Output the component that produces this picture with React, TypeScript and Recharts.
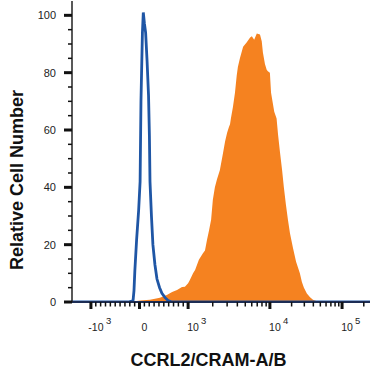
import React from 'react'
import { ComposedChart, Area, Line, XAxis, YAxis, Label } from 'recharts'

// histogram bins on the 0-1024 display channel scale
const isotypeChannels = [0, 192, 206, 210, 213, 216, 222, 229, 234, 237, 242, 245, 249, 253, 258, 263, 266, 268, 273, 278, 285, 292, 301, 309, 320, 330, 344, 1024]
const isotypeCounts = [0, 0, 0.3, 0.7, 4, 11, 21.7, 32, 42, 70, 94, 101, 97, 94, 84, 72, 58, 42, 30, 20, 13, 8, 5, 3, 1.5, 0.5, 0, 0]

const stainedChannels = [
  199, 234, 268, 302, 326, 344, 361, 378, 388, 399, 405, 416, 423, 436, 450, 457, 464, 471, 478, 484,
  491, 498, 508, 519, 526, 533, 539, 543, 546, 553, 560, 566, 570, 577, 588, 600, 612, 618, 626, 635,
  646, 652, 656, 663, 669, 673, 680, 684, 695, 703, 708, 715, 722, 728, 735, 742, 749, 759, 770, 783,
  790, 797, 807, 818, 828, 842, 859, 1024,
]
const stainedCounts = [
  0, 0.5, 0.8, 1.5, 2.4, 3.5, 4.2, 5.2, 5.3, 6.5, 7.7, 10, 11.2, 14.7, 17, 18, 21.7, 25, 28.7, 35.7,
  40, 42.7, 46, 52, 56, 59, 61, 62, 64, 68, 73, 79, 82, 85, 89, 90.5, 92.3, 92.7, 91.5, 93.7,
  93.3, 91, 87, 83, 81, 80.5, 80, 73, 66.4, 64, 58.4, 52, 46, 40, 34, 28.7, 24, 19, 14, 10,
  7, 5, 3, 1.7, 0.8, 0.3, 0, 0,
]

// x axis ticks in fluorescence units
const majorTicks = [-1000, 0, 1000, 10000, 100000]
const majorBase = ['-10', '0', '10', '10', '10']
const majorExp = ['3', '', '3', '4', '5']
const minorTicks = [
  -900, -800, -700, -600, -500, -400, -300, -200, -100,
  100, 200, 300, 400, 500, 600, 700, 800, 900,
  2000, 3000, 4000, 5000, 6000, 7000, 8000, 9000,
  20000, 30000, 40000, 50000, 60000, 70000, 80000, 90000,
  200000,
]

const yTicks = [0, 5, 10, 15, 20, 25, 30, 35, 40, 45, 50, 55, 60, 65, 70, 75, 80, 85, 90, 95, 100]

const ORANGE = '#f58220'
const BLUE = '#1f56a5'
const FONT = '"Liberation Sans", Arial, Helvetica, sans-serif'

// biexponential-style display transform: linear around zero, log above 10^3
function toChannel(v: number) {
  if (Math.abs(v) <= 1000) return 232 + (v / 1000) * 167
  const d = Math.log10(v)
  if (d <= 4) return 399 + (d - 3) * 281
  return 680 + (d - 4) * 248
}

const tickInfo = [
  ...majorTicks.map((v, i) => ({ ch: toChannel(v), major: true, base: majorBase[i], exp: majorExp[i] })),
  ...minorTicks.map((v) => ({ ch: toChannel(v), major: false, base: '', exp: '' })),
]
const xTickChannels = tickInfo.map((t) => t.ch).sort((a, b) => a - b)

const rows: Record<number, { ch: number; isotype?: number; stained?: number }> = {}
isotypeChannels.forEach((ch, i) => {
  rows[ch] = { ...(rows[ch] || { ch }), isotype: isotypeCounts[i] }
})
stainedChannels.forEach((ch, i) => {
  rows[ch] = { ...(rows[ch] || { ch }), stained: stainedCounts[i] }
})
const data = Object.values(rows).sort((a, b) => a.ch - b.ch)

function XTick(props: any) {
  const { x, y, payload } = props
  const info = tickInfo.find((t) => Math.abs(t.ch - payload.value) < 0.001)
  if (!info) return null
  const half = info.base === '-10' ? 7.5 : 5.5
  return (
    <g>
      <line x1={x} x2={x} y1={y} y2={y + (info.major ? 7 : 4.5)} stroke="#111" strokeWidth={info.major ? 3 : 1.5} />
      {info.major && (
        <text x={x + 5} y={y + 29} textAnchor="middle" fontSize={10.5} fontFamily={FONT} fill="#222">
          {info.base}
        </text>
      )}
      {info.major && info.exp && (
        <text x={x + 5 + half + 2.5} y={y + 22} fontSize={9.5} fontFamily={FONT} fill="#222">
          {info.exp}
        </text>
      )}
    </g>
  )
}

function YTick(props: any) {
  const { x, y, payload } = props
  const major = payload.value % 20 === 0
  return (
    <g>
      <line x1={x} x2={x - (major ? 8 : 4)} y1={y} y2={y} stroke="#111" strokeWidth={major ? 3 : 1.5} />
      {major && (
        <text x={x - 16} y={y + 4} textAnchor="end" fontSize={11} fontFamily={FONT} fill="#222">
          {payload.value}
        </text>
      )}
    </g>
  )
}

export default function App() {
  return (
    <div style={{ position: 'absolute', left: 0, top: 0, background: '#fff' }}>
      <ComposedChart width={372} height={373} data={data} margin={{ top: 1, right: 2, bottom: 0, left: 0 }}>
        <XAxis
          dataKey="ch"
          type="number"
          domain={[0, 1024]}
          ticks={xTickChannels}
          interval={0}
          tickSize={0}
          tickMargin={0}
          tickLine={false}
          tick={<XTick />}
          axisLine={{ stroke: '#1c2d55', strokeWidth: 2 }}
          height={71}
          allowDataOverflow
        >
          <Label
            content={() => (
              <text x={208.5} y={366} textAnchor="middle" fontSize={18} fontWeight="bold" fontFamily={FONT} fill="#111">
                CCRL2/CRAM-A/B
              </text>
            )}
          />
        </XAxis>
        <XAxis xAxisId="top" orientation="top" type="number" domain={[0, 1024]} height={0} tick={false} tickLine={false} axisLine={{ stroke: '#444', strokeWidth: 1.2 }} />
        <YAxis
          type="number"
          domain={[0, 105]}
          ticks={yTicks}
          interval={0}
          tickSize={0}
          tickMargin={0}
          tickLine={false}
          tick={<YTick />}
          axisLine={{ stroke: '#222', strokeWidth: 1.5 }}
          width={72}
          allowDataOverflow
        >
          <Label
            content={() => (
              <text
                x={23}
                y={180}
                transform="rotate(-90 23 180)"
                textAnchor="middle"
                fontSize={18}
                fontWeight="bold"
                fontFamily={FONT}
                fill="#111"
              >
                Relative Cell Number
              </text>
            )}
          />
        </YAxis>
        <YAxis yAxisId="right" orientation="right" type="number" domain={[0, 105]} width={0} tick={false} tickLine={false} axisLine={{ stroke: '#444', strokeWidth: 1.2 }} />
        <Area
          dataKey="stained"
          type="linear"
          fill={ORANGE}
          fillOpacity={1}
          stroke="none"
          connectNulls
          baseValue={0}
          isAnimationActive={false}
        />
        <Line
          dataKey="isotype"
          type="linear"
          stroke={BLUE}
          strokeWidth={2.8}
          dot={false}
          activeDot={false}
          connectNulls
          isAnimationActive={false}
        />
      </ComposedChart>
    </div>
  )
}
